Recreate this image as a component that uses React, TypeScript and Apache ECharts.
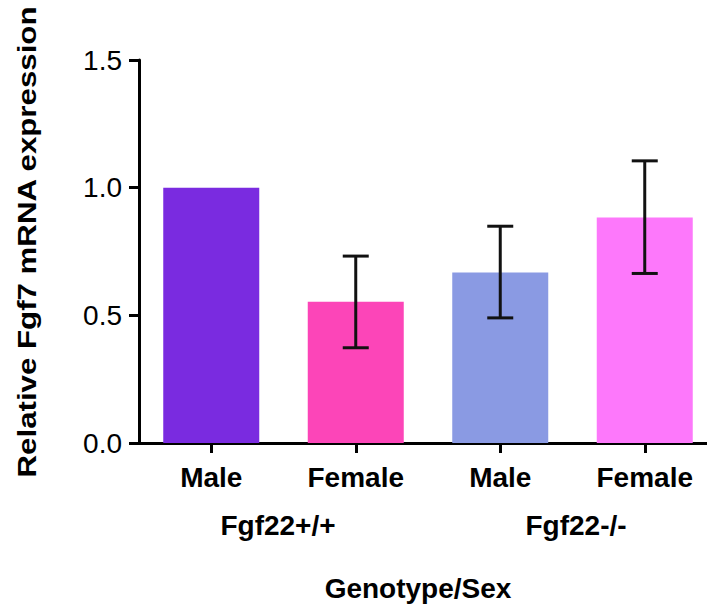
import React, { useEffect, useRef } from "react";
import * as echarts from "echarts";

const categories = ["Male", "Female", "Male", "Female"];
const means = [1.0, 0.553, 0.668, 0.883];
const errLow = [1.0, 0.373, 0.49, 0.664];
const errHigh = [1.0, 0.732, 0.849, 1.105];
const barColors = ["#7a2be0", "#fc45b8", "#8a9ae3", "#fd78fb"];
const yTicks = { min: 0, max: 1.5, interval: 0.5 };
const groupLabels = ["Fgf22+/+", "Fgf22-/-"];
const yTitle = "Relative Fgf7 mRNA expression";
const xTitle = "Genotype/Sex";

const FONT = "'Liberation Sans', Arial, Helvetica, sans-serif";

export default function App() {
  const ref = useRef<HTMLDivElement>(null);
  useEffect(() => {
    if (!ref.current) return;
    const chart = echarts.init(ref.current, null, { renderer: "svg" });
    const errData = categories.map((_, i) => [i, errLow[i], errHigh[i]]);
    chart.setOption({
      animation: false,
      backgroundColor: "#ffffff",
      grid: {
        left: 139,
        top: 60,
        bottom: 170,
        right: -10,
        containLabel: false,
        outerBoundsMode: "none",
      },
      xAxis: {
        type: "category",
        data: categories,
        axisLine: { show: true, lineStyle: { color: "#000", width: 3 } },
        axisTick: { show: true, alignWithLabel: true, length: 10, lineStyle: { color: "#000", width: 3 } },
        axisLabel: { color: "#000", fontFamily: FONT, fontWeight: "bold", fontSize: 28, margin: 20 },
        splitLine: { show: false },
      },
      yAxis: {
        type: "value",
        min: yTicks.min,
        max: yTicks.max,
        interval: yTicks.interval,
        axisLine: { show: true, lineStyle: { color: "#000", width: 3 } },
        axisTick: { show: true, length: 10, lineStyle: { color: "#000", width: 3 } },
        axisLabel: {
          color: "#000",
          fontFamily: FONT,
          fontSize: 28,
          margin: 17,
          formatter: (v: number) => v.toFixed(1),
        },
        splitLine: { show: false },
      },
      series: [
        {
          type: "bar",
          data: means.map((v, i) => ({ value: v, itemStyle: { color: barColors[i] } })),
          barWidth: 96,
        },
        {
          type: "custom",
          data: errData,
          z: 10,
          renderItem: (params: any, api: any) => {
            const x = api.value(0);
            const lo = api.coord([x, api.value(1)]);
            const hi = api.coord([x, api.value(2)]);
            if (Math.abs(lo[1] - hi[1]) < 1) return { type: "group", children: [] };
            const hw = 13;
            const style = { stroke: "#111", lineWidth: 3 };
            return {
              type: "group",
              children: [
                { type: "line", shape: { x1: lo[0], y1: lo[1], x2: hi[0], y2: hi[1] }, style },
                { type: "line", shape: { x1: hi[0] - hw, y1: hi[1], x2: hi[0] + hw, y2: hi[1] }, style },
                { type: "line", shape: { x1: lo[0] - hw, y1: lo[1], x2: lo[0] + hw, y2: lo[1] }, style },
              ],
            };
          },
        },
      ],
      graphic: [
        {
          type: "text",
          x: 27,
          y: 242,
          rotation: Math.PI / 2,
          scaleX: 1.25,
          style: {
            text: yTitle,
            font: `bold 25px ${FONT}`,
            fill: "#000",
            align: "center",
            verticalAlign: "middle",
          },
        },
        {
          type: "text",
          x: 278,
          y: 525,
          style: { text: groupLabels[0], font: `bold 28px ${FONT}`, fill: "#000", align: "center", verticalAlign: "middle" },
        },
        {
          type: "text",
          x: 576,
          y: 525,
          style: { text: groupLabels[1], font: `bold 28px ${FONT}`, fill: "#000", align: "center", verticalAlign: "middle" },
        },
        {
          type: "text",
          x: 418,
          y: 588,
          style: { text: xTitle, font: `bold 28px ${FONT}`, fill: "#000", align: "center", verticalAlign: "middle" },
        },
      ],
    });
    return () => chart.dispose();
  }, []);
  return <div ref={ref} style={{ position: "fixed", left: 0, top: 0, width: 707, height: 613 }} />;
}
